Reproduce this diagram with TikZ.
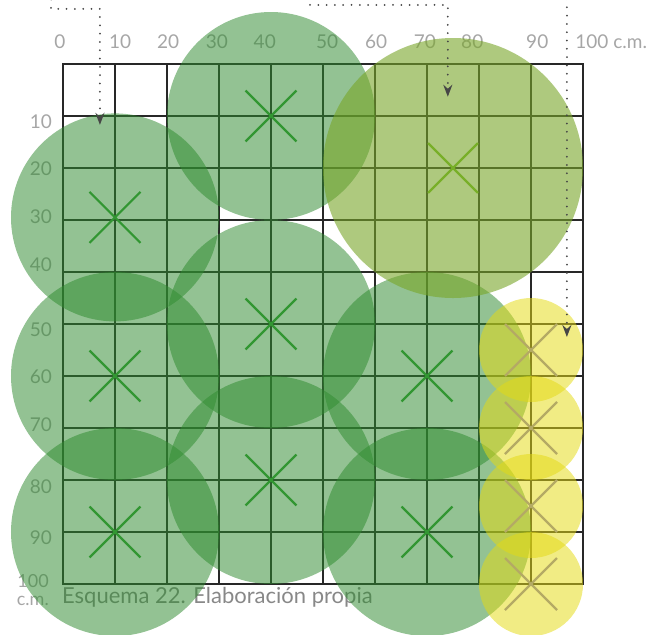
\documentclass[tikz,border=0pt]{standalone}
\usepackage{fontspec}
\setmainfont{Lato}
\usetikzlibrary{arrows.meta}

\definecolor{labelgray}{RGB}{166,166,166}
\definecolor{capgray}{RGB}{136,136,136}
\definecolor{gridgray}{RGB}{40,40,40}
\definecolor{pointgray}{RGB}{70,70,70}
\definecolor{shrubgreen}{RGB}{47,139,47}
\definecolor{treeolive}{RGB}{120,165,40}
\definecolor{flowyellow}{RGB}{228,218,20}
\definecolor{shrubmark}{RGB}{50,150,50}
\definecolor{treemark}{RGB}{120,175,40}
\definecolor{flowmark}{RGB}{180,170,100}

\begin{document}
\begin{tikzpicture}[x=52pt, y=-52pt,
  every node/.style={font=\fontsize{19}{19}\selectfont, text=labelgray, inner sep=0pt},
  gridline/.style={draw=gridgray, line width=1.6pt, line cap=rect},
  shrub/.style={fill=shrubgreen, fill opacity=0.52},
  tree/.style={fill=treeolive, fill opacity=0.6},
  flower/.style={fill=flowyellow, fill opacity=0.52},
  crossmark/.style={line width=2.2pt},
  pointer/.style={draw=pointgray, line width=2pt, line cap=round, dash pattern=on 0pt off 8.3pt,
    -{Stealth[length=12pt, width=9pt, inset=4pt]}}]
  \useasboundingbox (-1.2115,-1.2308) rectangle (11.365,10.9615);

  % Grid 100 x 100 c.m.
  \foreach \i in {0,...,10} {
    \draw[gridline] (\i,0) -- (\i,10);
    \draw[gridline] (0,\i) -- (10,\i);
  }

  % Scale labels
  \foreach \v/\px in {0/-0.06, 10/1.1, 20/2.02, 30/2.96, 40/3.88, 50/5.08, 60/6.02, 70/6.96, 80/7.87, 90/9.12}
    \node (top\v) at (\px,-0.42) {\v};
  \node[anchor=west] (top100) at (9.85,-0.42) {100 c.m.};
  \foreach \v/\py in {10/1.11, 20/2.02, 30/2.94, 40/3.86, 50/5.1, 60/6.02, 70/6.94, 80/8.13, 90/9.1}
    \node[anchor=east] (side\v) at (-0.21,\py) {\v};
  \node[anchor=east, align=right, font=\fontsize{18}{18.5}\selectfont] (side100) at (-0.27,10.12) {100\\c.m.};

  % Caption
  \node[anchor=base west, text=capgray, font=\fontsize{22}{22}\selectfont] (caption) at (-0.02,10.38)
    {Esquema 22. Elaboración propia};

  % Plants
  \foreach \cx/\cy in {1/2.95, 4/1, 1/6, 4/5, 7/6, 1/9, 4/8, 7/9}
    \fill[shrub] (\cx,\cy) circle[radius=2];
  \fill[tree] (7.5,2) circle[radius=2.5];
  \foreach \cy in {5.5,7,8.5,10}
    \fill[flower] (9,\cy) circle[radius=1];

  % Planting points
  \foreach \cx/\cy in {1/2.95, 4/1, 1/6, 4/5, 7/6, 1/9, 4/8, 7/9}
    \draw[crossmark, shrubmark] (\cx,\cy) +(-0.49,-0.49) -- +(0.49,0.49) +(-0.49,0.49) -- +(0.49,-0.49);
  \draw[crossmark, treemark] (7.5,2) +(-0.48,-0.48) -- +(0.48,0.48) +(-0.48,0.48) -- +(0.48,-0.48);
  \foreach \cy in {5.5,7,8.5,10}
    \draw[crossmark, flowmark] (9,\cy) +(-0.5,-0.5) -- +(0.5,0.5) +(-0.5,0.5) -- +(0.5,-0.5);

  % Pointers
  \coordinate (p1a) at (-0.23,-1.24);
  \coordinate (p1b) at (-0.23,-1.06);
  \coordinate (p1c) at (0.71,-1.06);
  \coordinate (p1d) at (0.71,1.17);
  \draw[pointer] (p1a) -- (p1b) -- (p1c) -- (p1d);
  \coordinate (p2a) at (4.75,-1.135);
  \coordinate (p2b) at (7.40,-1.135);
  \coordinate (p2c) at (7.40,0.63);
  \draw[pointer] (p2a) -- (p2b) -- (p2c);
  \coordinate (p3a) at (9.69,-1.25);
  \coordinate (p3b) at (9.69,5.25);
  \draw[pointer] (p3a) -- (p3b);
\end{tikzpicture}
\end{document}
